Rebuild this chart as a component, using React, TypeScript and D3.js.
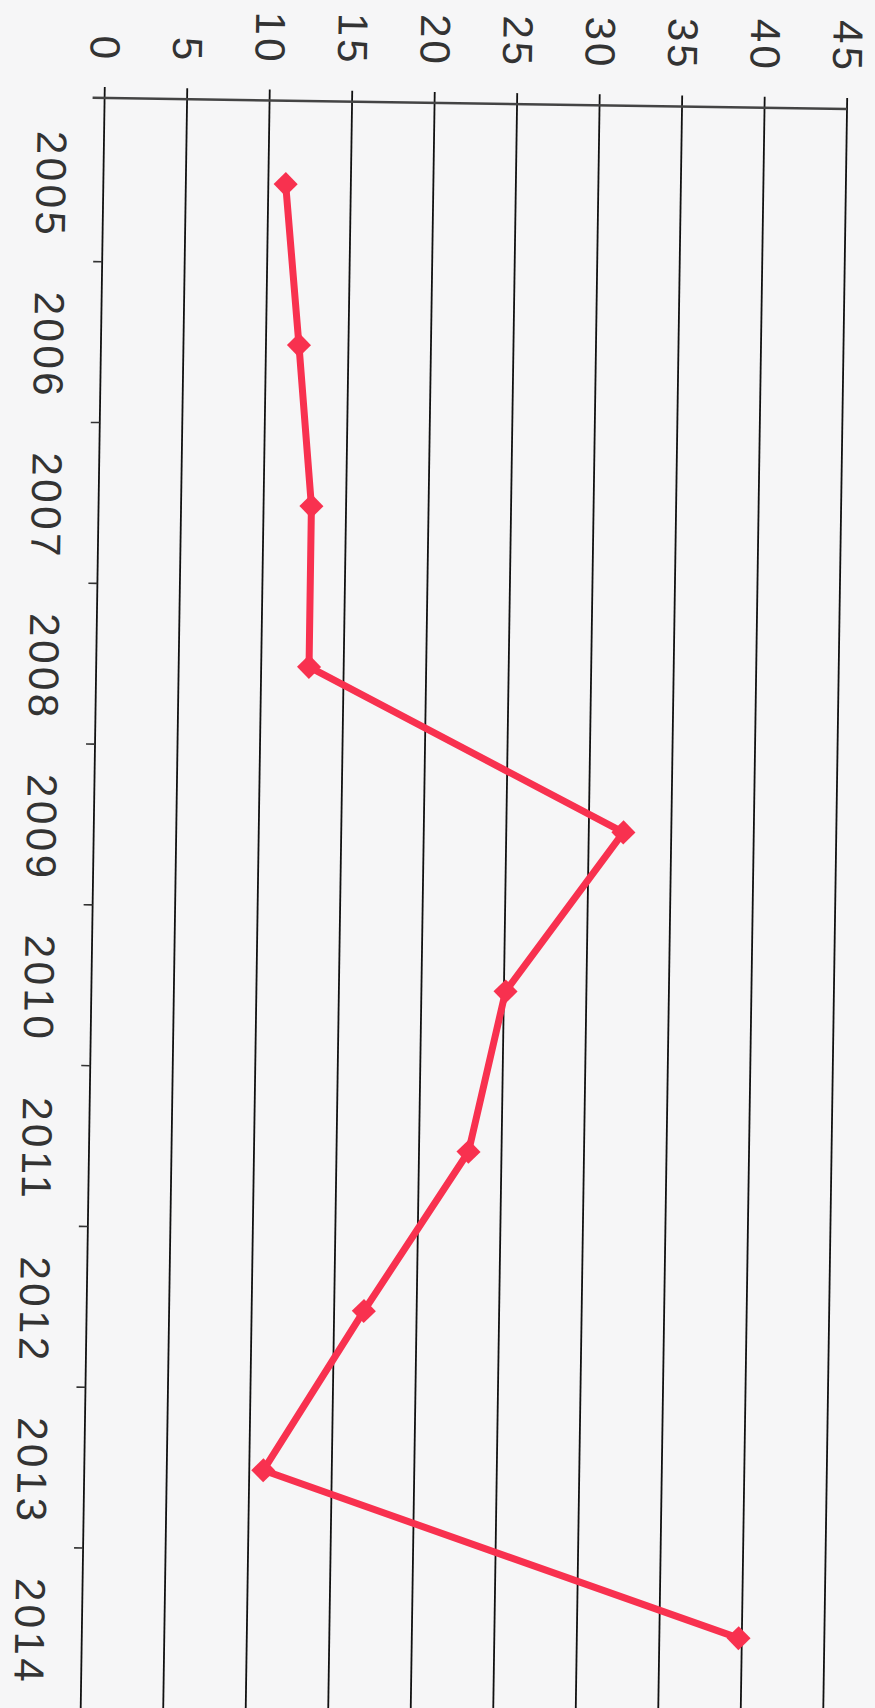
import React from "react";
import * as d3 from "d3";

const years = ["2005", "2006", "2007", "2008", "2009", "2010", "2011", "2012", "2013", "2014"];
const values = [11.05, 12.0, 12.9, 12.9, 32.1, 25.1, 23.0, 16.8, 10.85, 39.8];
const valueTicks = [0, 5, 10, 15, 20, 25, 30, 35, 40, 45];

const W = 875;
const H = 1708;

export default function App() {
  const x = d3.scaleLinear().domain([0, 45]).range([0, 742.5]);
  const y = d3.scaleBand<string>().domain(years).range([3, 1611]).padding(0);
  const cy = (yr: string) => (y(yr) as number) + y.bandwidth() / 2;

  const pts = years.map((yr, i) => ({ yr, v: values[i] }));
  const line = d3
    .line<{ yr: string; v: number }>()
    .x((d) => x(d.v))
    .y((d) => cy(d.yr));
  const diamond = d3.symbol().type(d3.symbolSquare).size(290)();

  const boundaries = d3.range(1, years.length + 1).map((i) => 3 + i * y.step());
  const red = "#f8314f";
  const ink = "#333";
  const font = "'Liberation Sans', Arial, sans-serif";

  return (
    <svg
      width={W}
      height={H}
      style={{ position: "absolute", left: 0, top: 0, display: "block" }}
    >
      <rect width={W} height={H} fill="#f6f6f7" />
      <g transform="translate(104.6,98) rotate(0.85)">
        {valueTicks.map((t) => (
          <line
            key={"g" + t}
            x1={x(t)}
            x2={x(t)}
            y1={-11}
            y2={1720}
            stroke="#111"
            strokeWidth={1.8}
          />
        ))}
        <line x1={-12} x2={x(45)} y1={0} y2={0} stroke="#444" strokeWidth={2.4} />
        {boundaries.map((b, i) => (
          <line key={"t" + i} x1={-9} x2={0} y1={b} y2={b} stroke="#333" strokeWidth={1.6} />
        ))}
        {valueTicks.map((t) => (
          <text
            key={"vl" + t}
            transform={`translate(${x(t)},${-36}) rotate(90)`}
            textAnchor="end"
            dy="0.35em"
            fontFamily={font}
            fontSize={42}
            letterSpacing={3}
            fill={ink}
          >
            {t}
          </text>
        ))}
        {years.map((yr) => (
          <text
            key={"yl" + yr}
            transform={`translate(${-52},${cy(yr) + 4}) rotate(90)`}
            textAnchor="middle"
            dy="0.35em"
            fontFamily={font}
            fontSize={42}
            letterSpacing={3.5}
            fill={ink}
          >
            {yr}
          </text>
        ))}
        <path d={line(pts) || ""} fill="none" stroke={red} strokeWidth={7} strokeLinejoin="round" />
        {pts.map((d) => (
          <path
            key={"m" + d.yr}
            d={diamond || ""}
            transform={`translate(${x(d.v)},${cy(d.yr)}) rotate(45)`}
            fill={red}
          />
        ))}
      </g>
    </svg>
  );
}
